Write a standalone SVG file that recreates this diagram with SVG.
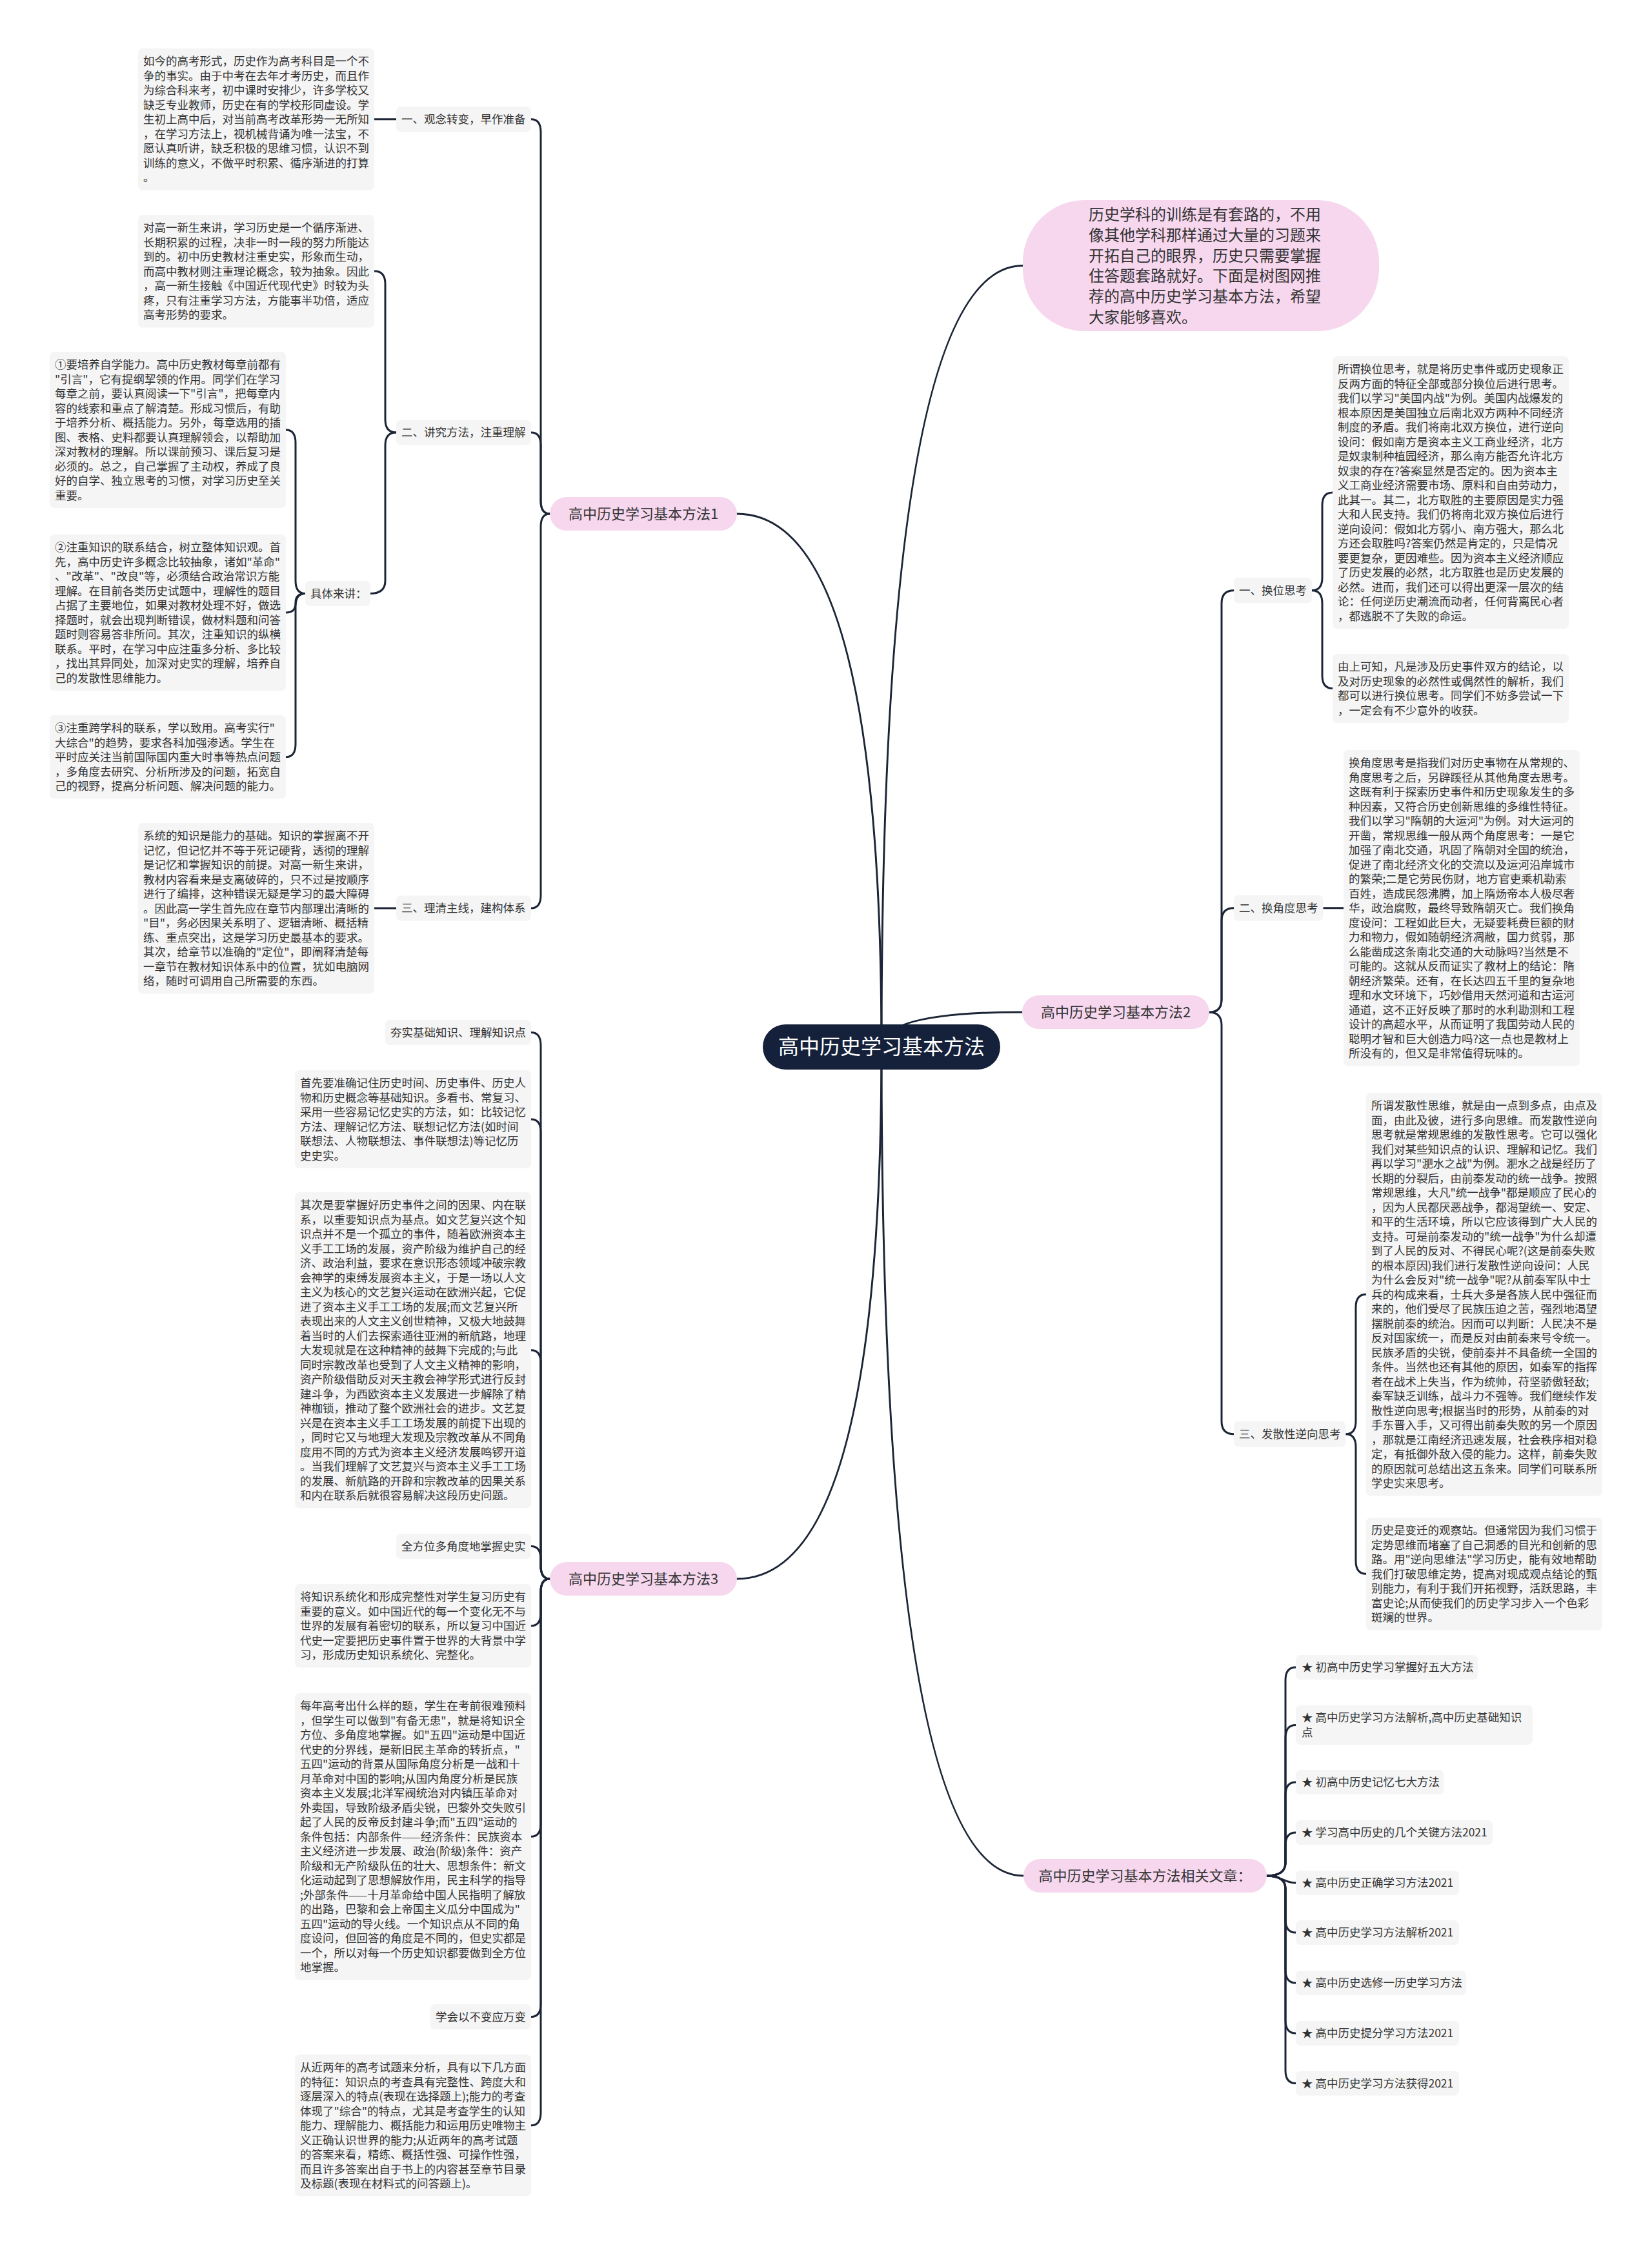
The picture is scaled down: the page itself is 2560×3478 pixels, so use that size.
<svg xmlns="http://www.w3.org/2000/svg" width="2560" height="3478" viewBox="0 0 2560 3478">
<style>
.bg{fill:#ffffff}
.blk{fill:#f5f5f5}
.pk{fill:#f6d7ee}
.t{font-family:"Noto Sans CJK SC","Noto Sans",sans-serif;font-size:17.5px;fill:#333333}
.bt{font-family:"Noto Sans CJK SC","Noto Sans",sans-serif;font-size:22px;fill:#333333;text-anchor:middle}
.bb{font-family:"Noto Sans CJK SC","Noto Sans",sans-serif;font-size:24px;fill:#333333}
.mt{font-family:"Noto Sans CJK SC","Noto Sans",sans-serif;font-size:32px;fill:#ffffff;text-anchor:middle}
.ln{fill:none;stroke:#1c2536;stroke-width:3;stroke-linecap:round}
</style>
<rect class="bg" x="0" y="0" width="2560" height="3478"/>

<g id="connectors">
<path class="ln" d="M1366 1622 Q1366 796 1142 796"/>
<path class="ln" d="M1366 1622 Q1366 2446 1142 2446"/>
<path class="ln" d="M1366 1622 Q1366 1568 1584 1568"/>
<path class="ln" d="M1366 1622 Q1366 411.5 1585 411.5"/>
<path class="ln" d="M1366 1622 Q1366 2906 1586 2906"/>

<path class="ln" d="M852 796 Q838 796 838 776 L838 204.75 Q838 184.75 823 184.75"/>
<path class="ln" d="M852 796 Q838 796 838 776 L838 690 Q838 670 823 670"/>
<path class="ln" d="M852 796 Q838 796 838 816 L838 1387 Q838 1407 823 1407"/>
<path class="ln" d="M614 184.75 L580 184.75"/>
<path class="ln" d="M614 670 Q597 670 597 650 L597 440 Q597 420 580 420"/>
<path class="ln" d="M614 670 Q597 670 597 690 L597 899.5 Q597 919.5 574 919.5"/>
<path class="ln" d="M473 919.5 Q458 919.5 458 899.5 L458 686 Q458 666 443 666"/>
<path class="ln" d="M473 919.5 Q458 919.5 458 933.5 L458 935 Q458 949 443 949"/>
<path class="ln" d="M473 919.5 Q458 919.5 458 939.5 L458 1152.75 Q458 1172.75 443 1172.75"/>
<path class="ln" d="M614 1407 L580 1407"/>

<path class="ln" d="M852 2446 Q838 2446 838 2426 L838 1619.5 Q838 1599.5 823 1599.5"/>
<path class="ln" d="M852 2446 Q838 2446 838 2426 L838 1754 Q838 1734 823 1734"/>
<path class="ln" d="M852 2446 Q838 2446 838 2426 L838 2111.75 Q838 2091.75 823 2091.75"/>
<path class="ln" d="M852 2446 Q838 2446 838 2426 L838 2415.5 Q838 2395.5 823 2395.5"/>
<path class="ln" d="M852 2446 Q838 2446 838 2466 L838 2498.75 Q838 2518.75 823 2518.75"/>
<path class="ln" d="M852 2446 Q838 2446 838 2466 L838 2825.25 Q838 2845.25 823 2845.25"/>
<path class="ln" d="M852 2446 Q838 2446 838 2466 L838 3104.5 Q838 3124.5 823 3124.5"/>
<path class="ln" d="M852 2446 Q838 2446 838 2466 L838 3272.75 Q838 3292.75 823 3292.75"/>

<path class="ln" d="M1874 1568.25 Q1893 1568.25 1893 1548.25 L1893 934.75 Q1893 914.75 1912 914.75"/>
<path class="ln" d="M1874 1568.25 Q1893 1568.25 1893 1548.25 L1893 1426.75 Q1893 1406.75 1912 1406.75"/>
<path class="ln" d="M1874 1568.25 Q1893 1568.25 1893 1588.25 L1893 2201.75 Q1893 2221.75 1912 2221.75"/>
<path class="ln" d="M2033 914.75 Q2049 914.75 2049 894.75 L2049 783 Q2049 763 2065 763"/>
<path class="ln" d="M2033 914.75 Q2049 914.75 2049 934.75 L2049 1046.5 Q2049 1066.5 2065 1066.5"/>
<path class="ln" d="M2050.5 1406.75 L2082 1406.75"/>
<path class="ln" d="M2085.5 2221.75 Q2101 2221.75 2101 2201.75 L2101 2025.25 Q2101 2005.25 2117 2005.25"/>
<path class="ln" d="M2085.5 2221.75 Q2101 2221.75 2101 2241.75 L2101 2418.25 Q2101 2438.25 2117 2438.25"/>

<path class="ln" d="M1963 2906 Q1992 2906 1992 2886 L1992 2603 Q1992 2583 2008 2583"/>
<path class="ln" d="M1963 2906 Q1992 2906 1992 2886 L1992 2692.5 Q1992 2672.5 2008 2672.5"/>
<path class="ln" d="M1963 2906 Q1992 2906 1992 2886 L1992 2781 Q1992 2761 2008 2761"/>
<path class="ln" d="M1963 2906 Q1992 2906 1992 2886 L1992 2859 Q1992 2839 2008 2839"/>
<path class="ln" d="M1963 2906 C1985 2906 1990 2917 2008 2917"/>
<path class="ln" d="M1963 2906 Q1992 2906 1992 2926 L1992 2974 Q1992 2994 2008 2994"/>
<path class="ln" d="M1963 2906 Q1992 2906 1992 2926 L1992 3052 Q1992 3072 2008 3072"/>
<path class="ln" d="M1963 2906 Q1992 2906 1992 2926 L1992 3130 Q1992 3150 2008 3150"/>
<path class="ln" d="M1963 2906 Q1992 2906 1992 2926 L1992 3207.5 Q1992 3227.5 2008 3227.5"/>
</g>

<g id="main">
<rect x="1182" y="1587" width="368" height="70" rx="35" fill="#15213a"/>
<text class="mt" x="1366" y="1633">高中历史学习基本方法</text>
</g>

<g id="intro">
<rect class="pk" x="1585" y="310" width="552" height="203" rx="96"/>
<text class="bb" x="1687" y="341"><tspan x="1687">历史学科的训练是有套路的，不用</tspan><tspan x="1687" dy="31.8">像其他学科那样通过大量的习题来</tspan><tspan x="1687" dy="31.8">开拓自己的眼界，历史只需要掌握</tspan><tspan x="1687" dy="31.8">住答题套路就好。下面是树图网推</tspan><tspan x="1687" dy="31.8">荐的高中历史学习基本方法，希望</tspan><tspan x="1687" dy="31.8">大家能够喜欢。</tspan></text>
</g>

<g id="branch1">
<rect class="pk" x="852" y="770" width="290" height="52" rx="26"/>
<text class="bt" x="997" y="803.5">高中历史学习基本方法1</text>
</g>
<g id="branch2">
<rect class="pk" x="1584" y="1542" width="290" height="52" rx="26"/>
<text class="bt" x="1729" y="1575.5">高中历史学习基本方法2</text>
</g>
<g id="branch3">
<rect class="pk" x="852" y="2420" width="290" height="52" rx="26"/>
<text class="bt" x="997" y="2453.5">高中历史学习基本方法3</text>
</g>
<g id="branch4">
<rect class="pk" x="1586" y="2880" width="377" height="52" rx="26"/>
<text class="bt" x="1774.5" y="2913.5">高中历史学习基本方法相关文章：</text>
</g>

<g id="b1-label1">
<rect class="blk" x="614" y="165" width="209" height="39.5" rx="7"/>
<text class="t" x="622" y="191">一、观念转变，早作准备</text>
</g>
<g id="b1-text1">
<rect class="blk" x="214" y="75" width="366" height="219.5" rx="7"/>
<text class="t" x="222" y="101"><tspan x="222">如今的高考形式，历史作为高考科目是一个不</tspan><tspan x="222" dy="22.5">争的事实。由于中考在去年才考历史，而且作</tspan><tspan x="222" dy="22.5">为综合科来考，初中课时安排少，许多学校又</tspan><tspan x="222" dy="22.5">缺乏专业教师，历史在有的学校形同虚设。学</tspan><tspan x="222" dy="22.5">生初上高中后，对当前高考改革形势一无所知</tspan><tspan x="222" dy="22.5">，在学习方法上，视机械背诵为唯一法宝，不</tspan><tspan x="222" dy="22.5">愿认真听讲，缺乏积极的思维习惯，认识不到</tspan><tspan x="222" dy="22.5">训练的意义，不做平时积累、循序渐进的打算</tspan><tspan x="222" dy="22.5">。</tspan></text>
</g>

<g id="b1-label2">
<rect class="blk" x="614" y="650.5" width="209" height="39" rx="7"/>
<text class="t" x="622" y="676">二、讲究方法，注重理解</text>
</g>
<g id="b1-text2">
<rect class="blk" x="214" y="333" width="366" height="174.5" rx="7"/>
<text class="t" x="222" y="359"><tspan x="222">对高一新生来讲，学习历史是一个循序渐进、</tspan><tspan x="222" dy="22.5">长期积累的过程，决非一时一段的努力所能达</tspan><tspan x="222" dy="22.5">到的。初中历史教材注重史实，形象而生动，</tspan><tspan x="222" dy="22.5">而高中教材则注重理论概念，较为抽象。因此</tspan><tspan x="222" dy="22.5">，高一新生接触《中国近代现代史》时较为头</tspan><tspan x="222" dy="22.5">疼，只有注重学习方法，方能事半功倍，适应</tspan><tspan x="222" dy="22.5">高考形势的要求。</tspan></text>
</g>
<g id="b1-detail">
<rect class="blk" x="473" y="900" width="101" height="39" rx="7"/>
<text class="t" x="481" y="925.5">具体来讲：</text>
</g>
<g id="b1-point1">
<rect class="blk" x="77" y="545" width="366" height="242" rx="7"/>
<text class="t" x="85" y="571"><tspan x="85">①要培养自学能力。高中历史教材每章前都有</tspan><tspan x="85" dy="22.5">"引言"，它有提纲挈领的作用。同学们在学习</tspan><tspan x="85" dy="22.5">每章之前，要认真阅读一下"引言"，把每章内</tspan><tspan x="85" dy="22.5">容的线索和重点了解清楚。形成习惯后，有助</tspan><tspan x="85" dy="22.5">于培养分析、概括能力。另外，每章选用的插</tspan><tspan x="85" dy="22.5">图、表格、史料都要认真理解领会，以帮助加</tspan><tspan x="85" dy="22.5">深对教材的理解。所以课前预习、课后复习是</tspan><tspan x="85" dy="22.5">必须的。总之，自己掌握了主动权，养成了良</tspan><tspan x="85" dy="22.5">好的自学、独立思考的习惯，对学习历史至关</tspan><tspan x="85" dy="22.5">重要。</tspan></text>
</g>
<g id="b1-point2">
<rect class="blk" x="77" y="828" width="366" height="242" rx="7"/>
<text class="t" x="85" y="854"><tspan x="85">②注重知识的联系结合，树立整体知识观。首</tspan><tspan x="85" dy="22.5">先，高中历史许多概念比较抽象，诸如"革命"</tspan><tspan x="85" dy="22.5">、"改革"、"改良"等，必须结合政治常识方能</tspan><tspan x="85" dy="22.5">理解。在目前各类历史试题中，理解性的题目</tspan><tspan x="85" dy="22.5">占据了主要地位，如果对教材处理不好，做选</tspan><tspan x="85" dy="22.5">择题时，就会出现判断错误，做材料题和问答</tspan><tspan x="85" dy="22.5">题时则容易答非所问。其次，注重知识的纵横</tspan><tspan x="85" dy="22.5">联系。平时，在学习中应注重多分析、多比较</tspan><tspan x="85" dy="22.5">，找出其异同处，加深对史实的理解，培养自</tspan><tspan x="85" dy="22.5">己的发散性思维能力。</tspan></text>
</g>
<g id="b1-point3">
<rect class="blk" x="77" y="1108" width="366" height="129.5" rx="7"/>
<text class="t" x="85" y="1134"><tspan x="85">③注重跨学科的联系，学以致用。高考实行"</tspan><tspan x="85" dy="22.5">大综合"的趋势，要求各科加强渗透。学生在</tspan><tspan x="85" dy="22.5">平时应关注当前国际国内重大时事等热点问题</tspan><tspan x="85" dy="22.5">，多角度去研究、分析所涉及的问题，拓宽自</tspan><tspan x="85" dy="22.5">己的视野，提高分析问题、解决问题的能力。</tspan></text>
</g>

<g id="b1-label3">
<rect class="blk" x="614" y="1387.5" width="209" height="39" rx="7"/>
<text class="t" x="622" y="1413">三、理清主线，建构体系</text>
</g>
<g id="b1-text3">
<rect class="blk" x="214" y="1275" width="366" height="264.5" rx="7"/>
<text class="t" x="222" y="1301"><tspan x="222">系统的知识是能力的基础。知识的掌握离不开</tspan><tspan x="222" dy="22.5">记忆，但记忆并不等于死记硬背，透彻的理解</tspan><tspan x="222" dy="22.5">是记忆和掌握知识的前提。对高一新生来讲，</tspan><tspan x="222" dy="22.5">教材内容看来是支离破碎的，只不过是按顺序</tspan><tspan x="222" dy="22.5">进行了编排，这种错误无疑是学习的最大障碍</tspan><tspan x="222" dy="22.5">。因此高一学生首先应在章节内部理出清晰的</tspan><tspan x="222" dy="22.5">"目"，务必因果关系明了、逻辑清晰、概括精</tspan><tspan x="222" dy="22.5">练、重点突出，这是学习历史最基本的要求。</tspan><tspan x="222" dy="22.5">其次，给章节以准确的"定位"，即阐释清楚每</tspan><tspan x="222" dy="22.5">一章节在教材知识体系中的位置，犹如电脑网</tspan><tspan x="222" dy="22.5">络，随时可调用自己所需要的东西。</tspan></text>
</g>

<g id="b3-label1">
<rect class="blk" x="597" y="1580" width="226" height="39" rx="7"/>
<text class="t" x="605" y="1605.5">夯实基础知识、理解知识点</text>
</g>
<g id="b3-text1">
<rect class="blk" x="457" y="1658" width="366" height="152" rx="7"/>
<text class="t" x="465" y="1684"><tspan x="465">首先要准确记住历史时间、历史事件、历史人</tspan><tspan x="465" dy="22.5">物和历史概念等基础知识。多看书、常复习、</tspan><tspan x="465" dy="22.5">采用一些容易记忆史实的方法，如：比较记忆</tspan><tspan x="465" dy="22.5">方法、理解记忆方法、联想记忆方法(如时间</tspan><tspan x="465" dy="22.5">联想法、人物联想法、事件联想法)等记忆历</tspan><tspan x="465" dy="22.5">史史实。</tspan></text>
</g>
<g id="b3-text2">
<rect class="blk" x="457" y="1847" width="366" height="489.5" rx="7"/>
<text class="t" x="465" y="1873"><tspan x="465">其次是要掌握好历史事件之间的因果、内在联</tspan><tspan x="465" dy="22.5">系，以重要知识点为基点。如文艺复兴这个知</tspan><tspan x="465" dy="22.5">识点并不是一个孤立的事件，随着欧洲资本主</tspan><tspan x="465" dy="22.5">义手工工场的发展，资产阶级为维护自己的经</tspan><tspan x="465" dy="22.5">济、政治利益，要求在意识形态领域冲破宗教</tspan><tspan x="465" dy="22.5">会神学的束缚发展资本主义，于是一场以人文</tspan><tspan x="465" dy="22.5">主义为核心的文艺复兴运动在欧洲兴起，它促</tspan><tspan x="465" dy="22.5">进了资本主义手工工场的发展;而文艺复兴所</tspan><tspan x="465" dy="22.5">表现出来的人文主义创世精神，又极大地鼓舞</tspan><tspan x="465" dy="22.5">着当时的人们去探索通往亚洲的新航路，地理</tspan><tspan x="465" dy="22.5">大发现就是在这种精神的鼓舞下完成的;与此</tspan><tspan x="465" dy="22.5">同时宗教改革也受到了人文主义精神的影响，</tspan><tspan x="465" dy="22.5">资产阶级借助反对天主教会神学形式进行反封</tspan><tspan x="465" dy="22.5">建斗争，为西欧资本主义发展进一步解除了精</tspan><tspan x="465" dy="22.5">神枷锁，推动了整个欧洲社会的进步。文艺复</tspan><tspan x="465" dy="22.5">兴是在资本主义手工工场发展的前提下出现的</tspan><tspan x="465" dy="22.5">，同时它又与地理大发现及宗教改革从不同角</tspan><tspan x="465" dy="22.5">度用不同的方式为资本主义经济发展鸣锣开道</tspan><tspan x="465" dy="22.5">。当我们理解了文艺复兴与资本主义手工工场</tspan><tspan x="465" dy="22.5">的发展、新航路的开辟和宗教改革的因果关系</tspan><tspan x="465" dy="22.5">和内在联系后就很容易解决这段历史问题。</tspan></text>
</g>
<g id="b3-label2">
<rect class="blk" x="614" y="2376" width="209" height="39" rx="7"/>
<text class="t" x="622" y="2401.5">全方位多角度地掌握史实</text>
</g>
<g id="b3-text3">
<rect class="blk" x="457" y="2454" width="366" height="129.5" rx="7"/>
<text class="t" x="465" y="2480"><tspan x="465">将知识系统化和形成完整性对学生复习历史有</tspan><tspan x="465" dy="22.5">重要的意义。如中国近代的每一个变化无不与</tspan><tspan x="465" dy="22.5">世界的发展有着密切的联系，所以复习中国近</tspan><tspan x="465" dy="22.5">代史一定要把历史事件置于世界的大背景中学</tspan><tspan x="465" dy="22.5">习，形成历史知识系统化、完整化。</tspan></text>
</g>
<g id="b3-text4">
<rect class="blk" x="457" y="2623" width="366" height="444.5" rx="7"/>
<text class="t" x="465" y="2649"><tspan x="465">每年高考出什么样的题，学生在考前很难预料</tspan><tspan x="465" dy="22.5">，但学生可以做到"有备无患"，就是将知识全</tspan><tspan x="465" dy="22.5">方位、多角度地掌握。如"五四"运动是中国近</tspan><tspan x="465" dy="22.5">代史的分界线，是新旧民主革命的转折点，"</tspan><tspan x="465" dy="22.5">五四"运动的背景从国际角度分析是一战和十</tspan><tspan x="465" dy="22.5">月革命对中国的影响;从国内角度分析是民族</tspan><tspan x="465" dy="22.5">资本主义发展;北洋军阀统治对内镇压革命对</tspan><tspan x="465" dy="22.5">外卖国，导致阶级矛盾尖锐，巴黎外交失败引</tspan><tspan x="465" dy="22.5">起了人民的反帝反封建斗争;而"五四"运动的</tspan><tspan x="465" dy="22.5">条件包括：内部条件——经济条件：民族资本</tspan><tspan x="465" dy="22.5">主义经济进一步发展、政治(阶级)条件：资产</tspan><tspan x="465" dy="22.5">阶级和无产阶级队伍的壮大、思想条件：新文</tspan><tspan x="465" dy="22.5">化运动起到了思想解放作用，民主科学的指导</tspan><tspan x="465" dy="22.5">;外部条件——十月革命给中国人民指明了解放</tspan><tspan x="465" dy="22.5">的出路，巴黎和会上帝国主义瓜分中国成为"</tspan><tspan x="465" dy="22.5">五四"运动的导火线。一个知识点从不同的角</tspan><tspan x="465" dy="22.5">度设问，但回答的角度是不同的，但史实都是</tspan><tspan x="465" dy="22.5">一个，所以对每一个历史知识都要做到全方位</tspan><tspan x="465" dy="22.5">地掌握。</tspan></text>
</g>
<g id="b3-label3">
<rect class="blk" x="667" y="3105" width="156" height="39" rx="7"/>
<text class="t" x="675" y="3130.5">学会以不变应万变</text>
</g>
<g id="b3-text5">
<rect class="blk" x="457" y="3183" width="366" height="219.5" rx="7"/>
<text class="t" x="465" y="3209"><tspan x="465">从近两年的高考试题来分析，具有以下几方面</tspan><tspan x="465" dy="22.5">的特征：知识点的考查具有完整性、跨度大和</tspan><tspan x="465" dy="22.5">逐层深入的特点(表现在选择题上);能力的考查</tspan><tspan x="465" dy="22.5">体现了"综合"的特点，尤其是考查学生的认知</tspan><tspan x="465" dy="22.5">能力、理解能力、概括能力和运用历史唯物主</tspan><tspan x="465" dy="22.5">义正确认识世界的能力;从近两年的高考试题</tspan><tspan x="465" dy="22.5">的答案来看，精练、概括性强、可操作性强，</tspan><tspan x="465" dy="22.5">而且许多答案出自于书上的内容甚至章节目录</tspan><tspan x="465" dy="22.5">及标题(表现在材料式的问答题上)。</tspan></text>
</g>

<g id="b2-label1">
<rect class="blk" x="1912" y="895" width="121" height="39.5" rx="7"/>
<text class="t" x="1920" y="921">一、换位思考</text>
</g>
<g id="b2-text1">
<rect class="blk" x="2065" y="552" width="366" height="422" rx="7"/>
<text class="t" x="2073" y="578"><tspan x="2073">所谓换位思考，就是将历史事件或历史现象正</tspan><tspan x="2073" dy="22.5">反两方面的特征全部或部分换位后进行思考。</tspan><tspan x="2073" dy="22.5">我们以学习"美国内战"为例。美国内战爆发的</tspan><tspan x="2073" dy="22.5">根本原因是美国独立后南北双方两种不同经济</tspan><tspan x="2073" dy="22.5">制度的矛盾。我们将南北双方换位，进行逆向</tspan><tspan x="2073" dy="22.5">设问：假如南方是资本主义工商业经济，北方</tspan><tspan x="2073" dy="22.5">是奴隶制种植园经济，那么南方能否允许北方</tspan><tspan x="2073" dy="22.5">奴隶的存在?答案显然是否定的。因为资本主</tspan><tspan x="2073" dy="22.5">义工商业经济需要市场、原料和自由劳动力，</tspan><tspan x="2073" dy="22.5">此其一。其二，北方取胜的主要原因是实力强</tspan><tspan x="2073" dy="22.5">大和人民支持。我们仍将南北双方换位后进行</tspan><tspan x="2073" dy="22.5">逆向设问：假如北方弱小、南方强大，那么北</tspan><tspan x="2073" dy="22.5">方还会取胜吗?答案仍然是肯定的，只是情况</tspan><tspan x="2073" dy="22.5">要更复杂，更因难些。因为资本主义经济顺应</tspan><tspan x="2073" dy="22.5">了历史发展的必然，北方取胜也是历史发展的</tspan><tspan x="2073" dy="22.5">必然。进而，我们还可以得出更深一层次的结</tspan><tspan x="2073" dy="22.5">论：任何逆历史潮流而动者，任何背离民心者</tspan><tspan x="2073" dy="22.5">，都逃脱不了失败的命运。</tspan></text>
</g>
<g id="b2-text2">
<rect class="blk" x="2065" y="1013" width="366" height="107" rx="7"/>
<text class="t" x="2073" y="1039"><tspan x="2073">由上可知，凡是涉及历史事件双方的结论，以</tspan><tspan x="2073" dy="22.5">及对历史现象的必然性或偶然性的解析，我们</tspan><tspan x="2073" dy="22.5">都可以进行换位思考。同学们不妨多尝试一下</tspan><tspan x="2073" dy="22.5">，一定会有不少意外的收获。</tspan></text>
</g>
<g id="b2-label2">
<rect class="blk" x="1912" y="1387" width="138.5" height="39.5" rx="7"/>
<text class="t" x="1920" y="1413">二、换角度思考</text>
</g>
<g id="b2-text3">
<rect class="blk" x="2082" y="1162" width="366" height="489.5" rx="7"/>
<text class="t" x="2090" y="1188"><tspan x="2090">换角度思考是指我们对历史事物在从常规的、</tspan><tspan x="2090" dy="22.5">角度思考之后，另辟蹊径从其他角度去思考。</tspan><tspan x="2090" dy="22.5">这既有利于探索历史事件和历史现象发生的多</tspan><tspan x="2090" dy="22.5">种因素，又符合历史创新思维的多维性特征。</tspan><tspan x="2090" dy="22.5">我们以学习"隋朝的大运河"为例。对大运河的</tspan><tspan x="2090" dy="22.5">开凿，常规思维一般从两个角度思考：一是它</tspan><tspan x="2090" dy="22.5">加强了南北交通，巩固了隋朝对全国的统治，</tspan><tspan x="2090" dy="22.5">促进了南北经济文化的交流以及运河沿岸城市</tspan><tspan x="2090" dy="22.5">的繁荣;二是它劳民伤财，地方官吏乘机勒索</tspan><tspan x="2090" dy="22.5">百姓，造成民怨沸腾，加上隋炀帝本人极尽奢</tspan><tspan x="2090" dy="22.5">华，政治腐败，最终导致隋朝灭亡。我们换角</tspan><tspan x="2090" dy="22.5">度设问：工程如此巨大，无疑要耗费巨额的财</tspan><tspan x="2090" dy="22.5">力和物力，假如随朝经济凋敝，国力贫弱，那</tspan><tspan x="2090" dy="22.5">么能凿成这条南北交通的大动脉吗?当然是不</tspan><tspan x="2090" dy="22.5">可能的。这就从反而证实了教材上的结论：隋</tspan><tspan x="2090" dy="22.5">朝经济繁荣。还有，在长达四五千里的复杂地</tspan><tspan x="2090" dy="22.5">理和水文环境下，巧妙借用天然河道和古运河</tspan><tspan x="2090" dy="22.5">通道，这不正好反映了那时的水利勘测和工程</tspan><tspan x="2090" dy="22.5">设计的高超水平，从而证明了我国劳动人民的</tspan><tspan x="2090" dy="22.5">聪明才智和巨大创造力吗?这一点也是教材上</tspan><tspan x="2090" dy="22.5">所没有的，但又是非常值得玩味的。</tspan></text>
</g>
<g id="b2-label3">
<rect class="blk" x="1912" y="2202" width="173.5" height="39.5" rx="7"/>
<text class="t" x="1920" y="2228">三、发散性逆向思考</text>
</g>
<g id="b2-text4">
<rect class="blk" x="2117" y="1693" width="366" height="624.5" rx="7"/>
<text class="t" x="2125" y="1719"><tspan x="2125">所谓发散性思维，就是由一点到多点，由点及</tspan><tspan x="2125" dy="22.5">面，由此及彼，进行多向思维。而发散性逆向</tspan><tspan x="2125" dy="22.5">思考就是常规思维的发散性思考。它可以强化</tspan><tspan x="2125" dy="22.5">我们对某些知识点的认识、理解和记忆。我们</tspan><tspan x="2125" dy="22.5">再以学习"淝水之战"为例。淝水之战是经历了</tspan><tspan x="2125" dy="22.5">长期的分裂后，由前秦发动的统一战争。按照</tspan><tspan x="2125" dy="22.5">常规思维，大凡"统一战争"都是顺应了民心的</tspan><tspan x="2125" dy="22.5">，因为人民都厌恶战争，都渴望统一、安定、</tspan><tspan x="2125" dy="22.5">和平的生活环境，所以它应该得到广大人民的</tspan><tspan x="2125" dy="22.5">支持。可是前秦发动的"统一战争"为什么却遭</tspan><tspan x="2125" dy="22.5">到了人民的反对、不得民心呢?(这是前秦失败</tspan><tspan x="2125" dy="22.5">的根本原因)我们进行发散性逆向设问：人民</tspan><tspan x="2125" dy="22.5">为什么会反对"统一战争"呢?从前秦军队中士</tspan><tspan x="2125" dy="22.5">兵的构成来看，士兵大多是各族人民中强征而</tspan><tspan x="2125" dy="22.5">来的，他们受尽了民族压迫之苦，强烈地渴望</tspan><tspan x="2125" dy="22.5">摆脱前秦的统治。因而可以判断：人民决不是</tspan><tspan x="2125" dy="22.5">反对国家统一，而是反对由前秦来号令统一。</tspan><tspan x="2125" dy="22.5">民族矛盾的尖锐，使前秦并不具备统一全国的</tspan><tspan x="2125" dy="22.5">条件。当然也还有其他的原因，如秦军的指挥</tspan><tspan x="2125" dy="22.5">者在战术上失当，作为统帅，苻坚骄傲轻敌;</tspan><tspan x="2125" dy="22.5">秦军缺乏训练，战斗力不强等。我们继续作发</tspan><tspan x="2125" dy="22.5">散性逆向思考;根据当时的形势，从前秦的对</tspan><tspan x="2125" dy="22.5">手东晋入手，又可得出前秦失败的另一个原因</tspan><tspan x="2125" dy="22.5">，那就是江南经济迅速发展，社会秩序相对稳</tspan><tspan x="2125" dy="22.5">定，有抵御外敌入侵的能力。这样，前秦失败</tspan><tspan x="2125" dy="22.5">的原因就可总结出这五条来。同学们可联系所</tspan><tspan x="2125" dy="22.5">学史实来思考。</tspan></text>
</g>
<g id="b2-text5">
<rect class="blk" x="2117" y="2351" width="366" height="174.5" rx="7"/>
<text class="t" x="2125" y="2377"><tspan x="2125">历史是变迁的观察站。但通常因为我们习惯于</tspan><tspan x="2125" dy="22.5">定势思维而堵塞了自己洞悉的目光和创新的思</tspan><tspan x="2125" dy="22.5">路。用"逆向思维法"学习历史，能有效地帮助</tspan><tspan x="2125" dy="22.5">我们打破思维定势，提高对现成观点结论的甄</tspan><tspan x="2125" dy="22.5">别能力，有利于我们开拓视野，活跃思路，丰</tspan><tspan x="2125" dy="22.5">富史论;从而使我们的历史学习步入一个色彩</tspan><tspan x="2125" dy="22.5">斑斓的世界。</tspan></text>
</g>

<g id="rel-1"><rect class="blk" x="2008" y="2564" width="282" height="38" rx="7"/><text class="t" x="2017" y="2589">★ 初高中历史学习掌握好五大方法</text></g>
<g id="rel-2"><rect class="blk" x="2008" y="2642" width="367" height="61" rx="7"/><text class="t" x="2017" y="2667"><tspan x="2017">★ 高中历史学习方法解析,高中历史基础知识</tspan><tspan x="2017" dy="22.5">点</tspan></text></g>
<g id="rel-3"><rect class="blk" x="2008" y="2742" width="229" height="38" rx="7"/><text class="t" x="2017" y="2767">★ 初高中历史记忆七大方法</text></g>
<g id="rel-4"><rect class="blk" x="2008" y="2820" width="305" height="38" rx="7"/><text class="t" x="2017" y="2845">★ 学习高中历史的几个关键方法2021</text></g>
<g id="rel-5"><rect class="blk" x="2008" y="2898" width="253" height="38" rx="7"/><text class="t" x="2017" y="2923">★ 高中历史正确学习方法2021</text></g>
<g id="rel-6"><rect class="blk" x="2008" y="2975" width="253" height="38" rx="7"/><text class="t" x="2017" y="3000">★ 高中历史学习方法解析2021</text></g>
<g id="rel-7"><rect class="blk" x="2008" y="3053" width="264" height="38" rx="7"/><text class="t" x="2017" y="3078">★ 高中历史选修一历史学习方法</text></g>
<g id="rel-8"><rect class="blk" x="2008" y="3131" width="253" height="38" rx="7"/><text class="t" x="2017" y="3156">★ 高中历史提分学习方法2021</text></g>
<g id="rel-9"><rect class="blk" x="2008" y="3208.5" width="253" height="38" rx="7"/><text class="t" x="2017" y="3233.5">★ 高中历史学习方法获得2021</text></g>
</svg>
